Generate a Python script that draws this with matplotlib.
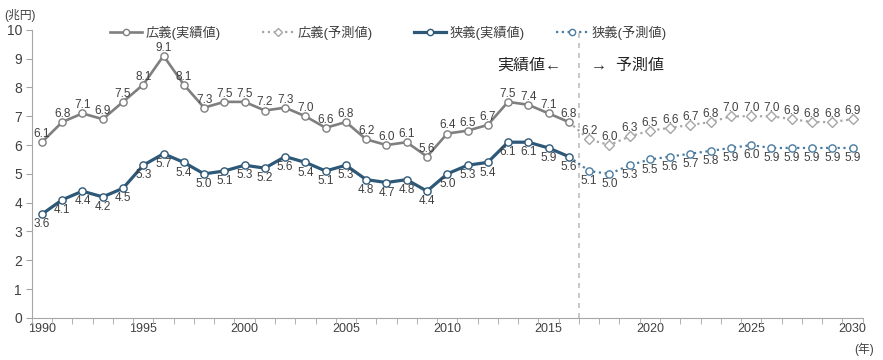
import matplotlib
matplotlib.use("Agg")
import matplotlib.pyplot as plt
from matplotlib.lines import Line2D

plt.rcParams["font.family"] = ["Liberation Sans", "Noto Sans CJK JP", "DejaVu Sans"]

years_actual = list(range(1990, 2017))
years_forecast = list(range(2017, 2031))

broad_actual = [6.1, 6.8, 7.1, 6.9, 7.5, 8.1, 9.1, 8.1, 7.3, 7.5, 7.5, 7.2, 7.3, 7.0,
                6.6, 6.8, 6.2, 6.0, 6.1, 5.6, 6.4, 6.5, 6.7, 7.5, 7.4, 7.1, 6.8]
broad_forecast = [6.2, 6.0, 6.3, 6.5, 6.6, 6.7, 6.8, 7.0, 7.0, 7.0, 6.9, 6.8, 6.8, 6.9]
narrow_actual = [3.6, 4.1, 4.4, 4.2, 4.5, 5.3, 5.7, 5.4, 5.0, 5.1, 5.3, 5.2, 5.6, 5.4,
                 5.1, 5.3, 4.8, 4.7, 4.8, 4.4, 5.0, 5.3, 5.4, 6.1, 6.1, 5.9, 5.6]
narrow_forecast = [5.1, 5.0, 5.3, 5.5, 5.6, 5.7, 5.8, 5.9, 6.0, 5.9, 5.9, 5.9, 5.9, 5.9]

legend_labels = ["広義(実績値)", "広義(予測値)", "狭義(実績値)", "狭義(予測値)"]

GRAY = "#7f7f7f"
LGRAY = "#a6a6a6"
BLUE = "#2e5878"
BLUE_F = "#4a7ba0"
TXT = "#404040"
DOT = (0, (1, 1.6))

fig = plt.figure(figsize=(8.83, 3.6), dpi=100)
ax = fig.add_axes([0.036, 0.117, 0.941, 0.8])

# forecast lines start from the last actual point
ax.plot([years_actual[-1]] + years_forecast, [broad_actual[-1]] + broad_forecast,
        color=LGRAY, lw=1.6, ls=DOT, zorder=2)
ax.plot(years_forecast, broad_forecast, ls="none", marker="D", ms=4.8,
        mfc="white", mec=LGRAY, mew=1, zorder=3)
ax.plot([years_actual[-1]] + years_forecast, [narrow_actual[-1]] + narrow_forecast,
        color=BLUE_F, lw=1.6, ls=DOT, zorder=2)
ax.plot(years_forecast, narrow_forecast, ls="none", marker="o", ms=5.2,
        mfc="white", mec=BLUE_F, mew=1, zorder=3)

ax.plot(years_actual, broad_actual, color=GRAY, lw=1.9, marker="o", ms=5.2,
        mfc="white", mec=GRAY, mew=1, zorder=4)
ax.plot(years_actual, narrow_actual, color=BLUE, lw=2.3, marker="o", ms=5.2,
        mfc="white", mec=BLUE, mew=1, zorder=4)

for x, v in zip(years_actual + years_forecast, broad_actual + broad_forecast):
    ax.annotate(f"{v:.1f}", (x, v), xytext=(0, 1.5), textcoords="offset points",
                ha="center", va="bottom", fontsize=8.5, color=TXT, zorder=5)
for x, v in zip(years_actual + years_forecast, narrow_actual + narrow_forecast):
    ax.annotate(f"{v:.1f}", (x, v), xytext=(0, -3), textcoords="offset points",
                ha="center", va="top", fontsize=8.5, color=TXT, zorder=5)

ax.axvline(2016.5, color="#bfbfbf", lw=1.2, ls=(0, (3, 3)), zorder=1)
ax.text(2015.6, 8.78, "実績値←", ha="right", va="center", fontsize=11.5, color="#262626")
ax.text(2017.1, 8.78, "→  予測値", ha="left", va="center", fontsize=11.5, color="#262626")

ax.set_xlim(1989.5, 2030.5)
ax.set_ylim(0, 10)
ax.set_yticks(range(0, 11))
ax.set_xticks(range(1990, 2031, 5))
ax.set_xticks([y + 0.5 for y in range(1989, 2031)], minor=True)
ax.tick_params(axis="x", which="major", length=0, labelsize=9, colors=TXT, pad=4)
ax.tick_params(axis="x", which="minor", length=4, color="#a6a6a6")
ax.tick_params(axis="y", length=4, color="#a6a6a6", labelsize=10, colors=TXT, pad=3)
for s in ["top", "right"]:
    ax.spines[s].set_visible(False)
for s in ["left", "bottom"]:
    ax.spines[s].set_color("#a6a6a6")

fig.text(0.005, 0.975, "(兆円)", ha="left", va="top", fontsize=8.5, color=TXT)
fig.text(0.99, 0.01, "(年)", ha="right", va="bottom", fontsize=8.5, color=TXT)

handles = [
    Line2D([], [], color=GRAY, lw=1.9, marker="o", ms=4.5, mfc="white", mec=GRAY),
    Line2D([], [], color=LGRAY, lw=1.6, ls=DOT, marker="D", ms=4, mfc="white", mec=LGRAY),
    Line2D([], [], color=BLUE, lw=2.3, marker="o", ms=4.5, mfc="white", mec=BLUE),
    Line2D([], [], color=BLUE_F, lw=1.6, ls=DOT, marker="o", ms=4.5, mfc="white", mec=BLUE_F),
]
legend_x = [110, 262, 414, 556]
for h, lab, px in zip(handles, legend_labels, legend_x):
    fig.legend([h], [lab], loc="center left", bbox_to_anchor=(px / 883, 1 - 33 / 360),
               frameon=False, fontsize=9.5, handlelength=2.4, handletextpad=0.3,
               borderpad=0, borderaxespad=0, labelcolor=TXT)

fig.savefig("out.png", dpi=100)
